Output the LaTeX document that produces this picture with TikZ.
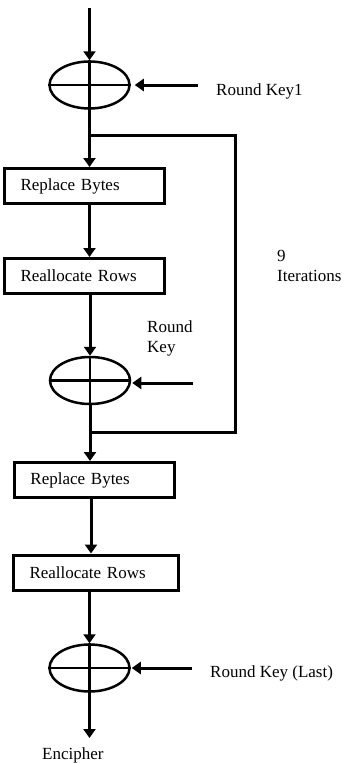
\documentclass[tikz,border=0pt]{standalone}
\usepackage{fontspec}
\setmainfont{Liberation Serif}
\usetikzlibrary{arrows.meta,calc,positioning,shapes.geometric}

\begin{document}
\begin{tikzpicture}[
  x=1pt, y=-1pt,
  font=\fontsize{17}{20}\selectfont,
  stage/.style={draw, line width=3pt, minimum height=35pt, inner xsep=16pt, inner ysep=0pt, text width=#1, align=left},
  xorop/.style={draw, ellipse, line width=2.5pt, minimum width=80pt, minimum height=47pt, inner sep=0pt},
  wire/.style={line width=3pt},
  flow/.style={line width=3pt, -{Triangle[length=9pt,width=12pt]}},
  note/.style={align=left, inner sep=0pt}
]
\useasboundingbox (0,0) rectangle (348,763);

% main column
\coordinate (start) at (89.5,8);
\node[xorop] (xor1) at (89.5,85) {};
\node[stage=128pt] (replace1) at (84.5,186) {Replace Bytes};
\node[stage=128pt] (realloc1) at (84.5,276) {Reallocate Rows};
\node[xorop] (xor2) at (90,380.5) {};
\node[stage=128pt] (replace2) at (94.5,480) {Replace Bytes};
\node[stage=133pt] (realloc2) at (96,572.5) {Reallocate Rows};
\node[xorop] (xor3) at (89.5,668) {};
\node[note, anchor=base west] (out) at (42,759) {Encipher};

% keys and labels
\node[note, anchor=base west] (key1) at (216,95) {Round Key1};
\node[note, anchor=base west] (key2) at (147,352) {Round\\Key};
\node[note, anchor=base west] (keylast) at (210,677) {Round Key (Last)};
\node[note, anchor=base west] (iter) at (277,281) {9\\Iterations};
\coordinate (key2in) at (193,383);
\coordinate (loopa) at (235,135);
\coordinate (loopb) at (235,432);

% crosses inside the ellipses
\foreach \x in {xor1,xor2,xor3}{
  \draw[line width=2.5pt] (\x.west) -- (\x.east);
  \draw[line width=2.5pt] (\x.north) -- (\x.south);
}

% flow
\draw[flow] (start) -- (xor1.north);
\draw[flow] (xor1.south) -- (xor1.south |- replace1.north);
\draw[flow] (replace1.south -| xor1) -- (realloc1.north -| xor1);
\draw[flow] (realloc1.south -| xor2) -- (xor2.north);
\draw[flow] (xor2.south) -- (xor2.south |- replace2.north);
\draw[flow] (replace2.south -| 91,0) -- (realloc2.north -| 91,0);
\draw[flow] (realloc2.south -| xor3) -- (xor3.north);
\draw[flow] (xor3.south) -- (xor3.south |- 0,738);

% round keys
\draw[flow, shorten >=4pt] ([xshift=-18pt]key1.west |- xor1.east) -- (xor1.east);
\draw[flow, shorten >=1pt] (key2in) -- (key2in -| xor2.east);
\draw[flow, shorten >=1pt] ([xshift=-18pt]keylast.west |- xor3.east) -- (xor3.east);

% loop back
\draw[wire] (loopa -| xor1) -- (loopa) -- (loopb) -- (loopb -| xor2);
\end{tikzpicture}
\end{document}
